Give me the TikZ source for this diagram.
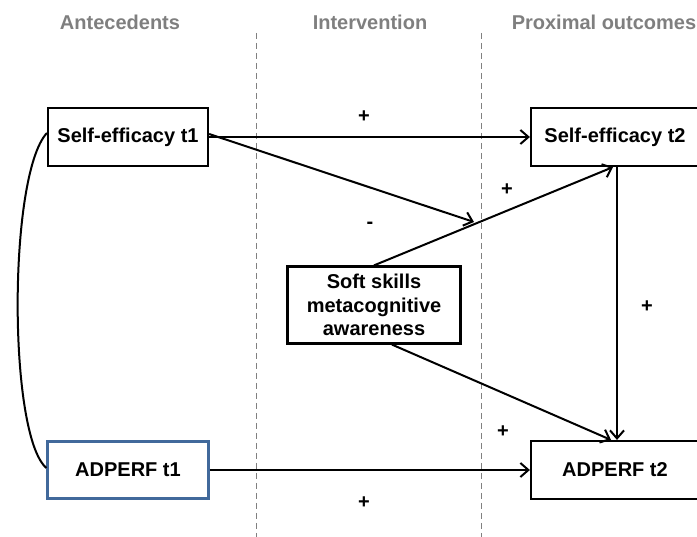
\documentclass[tikz,border=0pt]{standalone}
\usepackage{fontspec}
\setmainfont{Liberation Sans}
\usetikzlibrary{arrows.meta}
\definecolor{headgray}{HTML}{7F7F7F}
\definecolor{boxblue}{HTML}{41699B}
\tikzset{
	var/.style={draw, line width=2.2pt, inner sep=0pt, minimum height=58pt, font=\fontsize{20}{23.5}\selectfont\bfseries, align=center},
	head/.style={text=headgray, font=\fontsize{20}{24}\selectfont\bfseries},
	sign/.style={font=\fontsize{20}{24}\selectfont\bfseries},
	path/.style={line width=2pt, -{Straight Barb[length=8pt,width=14pt,line width=2pt]}},
	divider/.style={draw=gray, line width=1pt, dash pattern=on 6pt off 4pt}
}
\begin{document}
\begin{tikzpicture}[x=1pt, y=-1pt]
	\useasboundingbox (0,0) rectangle (697,537);
	\node[head] (antec) at (120,22) {Antecedents};
	\node[head] (interv) at (370,22) {Intervention};
	\node[head] (proxim) at (604,22) {Proximal outcomes};
	\coordinate (d1top) at (256,33); \coordinate (d1bot) at (256,537);
	\coordinate (d2top) at (481,33); \coordinate (d2bot) at (481,537);
	\draw[divider] (d1top)--(d1bot);
	\draw[divider] (d2top)--(d2bot);
	\node[var, minimum width=160pt] (se1) at (128,137) {Self-efficacy t1};
	\node[var, draw=boxblue, minimum width=161pt, minimum height=57pt] (ad1) at (128,470) {ADPERF t1};
	\node[var, minimum width=168pt] (se2) at (615,137) {Self-efficacy t2};
	\node[var, minimum width=168pt] (ad2) at (615,470) {ADPERF t2};
	\node[var, minimum width=173pt, minimum height=77pt] (soft) at (374,305) {Soft skills\\metacognitive\\awareness};
	\coordinate (mod) at (474,222);
\draw[path] (se1.east)--(se2.west);
\draw[path] ([yshift=3pt]se1.east)--(mod);
\draw[path] (soft.north)--([xshift=-2pt]se2.south);
\draw[path] ([xshift=2pt]se2.south)--([xshift=2pt]ad2.north);
\draw[path] ([xshift=18pt]soft.south)--([xshift=-4pt]ad2.north);
\draw[path] (ad1.east)--(ad2.west);
\draw[line width=2pt] ([yshift=4pt]se1.west) .. controls (8,175) and (8,435) .. ([yshift=2pt]ad1.west);
	\node[sign] (p1) at (364,117) {+};
	\node[sign] (m1) at (370,225) {-};
	\node[sign] (p2) at (507,190) {+};
	\node[sign] (p3) at (647,307) {+};
	\node[sign] (p4) at (503,432) {+};
	\node[sign] (p5) at (364,503) {+};
\end{tikzpicture}
\end{document}
